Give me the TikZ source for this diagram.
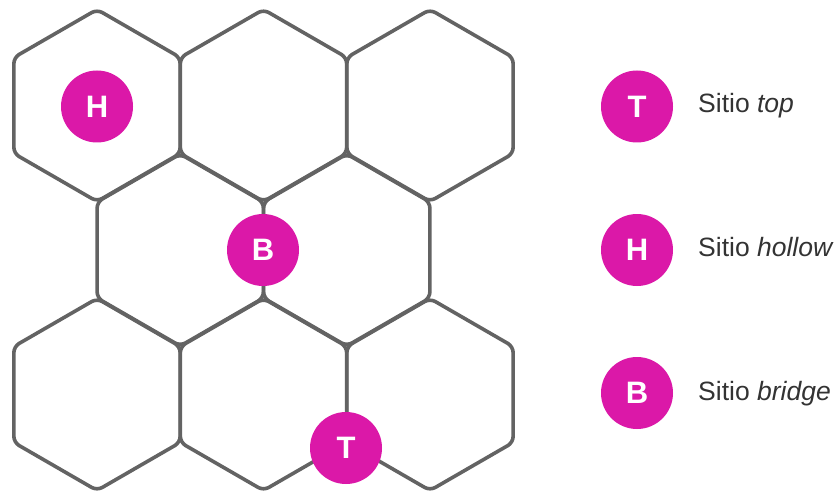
\documentclass[tikz,border=0pt]{standalone}
\usepackage{fontspec}
\setmainfont{Liberation Sans}
\definecolor{hexgray}{HTML}{636363}
\definecolor{sitemag}{HTML}{DB18A8}
\definecolor{txtgray}{HTML}{333333}
\tikzset{
  hexline/.style={draw=hexgray, line width=3.6pt, rounded corners=6pt, line join=round},
  hexcell/.pic={
    \path[hexline] (-83.14,0) -- (210:96) -- (270:96) -- (330:96) -- (30:96) -- (90:96) -- (150:96) -- cycle;
  },
  site/.style={circle, fill=sitemag, minimum size=72pt, inner sep=0pt, text=white,
    font=\fontsize{31}{31}\selectfont\bfseries},
  legendtext/.style={anchor=base west, inner sep=0pt, text=txtgray,
    font=\fontsize{26.5}{26.5}\selectfont},
}
\begin{document}
\begin{tikzpicture}[x=1pt,y=-1pt]
\useasboundingbox (0,0) rectangle (838,492);
% honeycomb
\pic at (97,105.5) {hexcell};
\pic at (263.5,105.5) {hexcell};
\pic at (430,105.5) {hexcell};
\pic at (180.25,250) {hexcell};
\pic at (346.75,250) {hexcell};
\pic at (97,394.5) {hexcell};
\pic at (263.5,394.5) {hexcell};
\pic at (430,394.5) {hexcell};
% adsorption sites
\node[site] (hollow) at (97,106.5) {H};
\node[site] (bridge) at (263,250) {B};
\node[site] (top) at (346,448) {T};
% legend
\node[site] (legT) at (637,106.5) {T};
\node[site] (legH) at (637,250) {H};
\node[site] (legB) at (637,393) {B};
\node[legendtext] (txtT) at (698,113) {Sitio \textit{top}};
\node[legendtext] (txtH) at (698,256.5) {Sitio \textit{hollow}};
\node[legendtext] (txtB) at (698,400) {Sitio \textit{bridge}};
\end{tikzpicture}
\end{document}
